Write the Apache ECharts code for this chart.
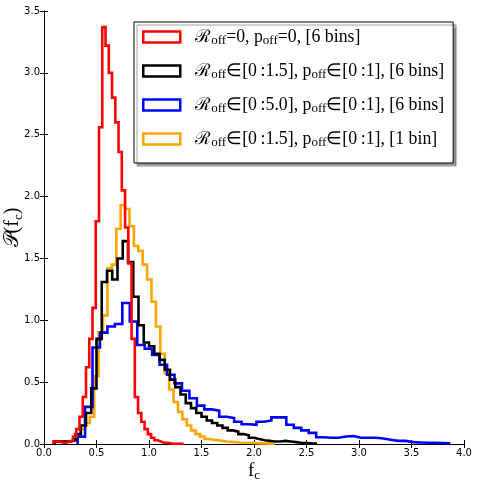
<!DOCTYPE html>
<html>
<head>
<meta charset="utf-8">
<script src="https://cdn.jsdelivr.net/npm/echarts@6/dist/echarts.min.js"></script>
<style>
  body { margin: 0; background: #fff; }
  #main { width: 477px; height: 485px; }
</style>
</head>
<body>
<div id="main"></div>
<script>
// histogram bins: start edge, bin width, heights
const seriesNames = [ 'red', 'black', 'blue', 'orange' ];
const seriesColors = [ '#ff0000', '#000000', '#0000ff', '#ffa500' ];
const binStart = [ 0.09, 0.10, 0.32, 0.10 ];
const binWidth = [ 0.031, 0.05, 0.071, 0.042 ];

const redHeights = [
  0.02, 0.02, 0.01, 0.01, 0.02, 0.03, 0.06, 0.12, 0.22, 0.38,
  0.62, 0.85, 1.10, 1.80, 2.56, 3.37, 3.22, 3.00, 2.80, 2.60,
  2.36, 2.05, 1.75, 1.46, 0.85, 0.38, 0.25, 0.18, 0.12, 0.08,
  0.05, 0.03, 0.02, 0.01, 0.01, 0.005, 0.003, 0.002, 0.001, 0.001
];
const blackHeights = [
  0.02, 0.02, 0.02, 0.03, 0.08, 0.15, 0.25, 0.45, 0.85, 1.31,
  1.40, 1.33, 1.50, 1.64, 1.47, 1.19, 0.96, 0.82, 0.79, 0.73,
  0.68, 0.60, 0.52, 0.46, 0.40, 0.33, 0.29, 0.25, 0.22, 0.19,
  0.17, 0.15, 0.13, 0.11, 0.10, 0.08, 0.07, 0.05, 0.04, 0.03,
  0.025, 0.02, 0.02, 0.025, 0.02, 0.015, 0.01, 0.008, 0.005, 0.003
];
const blueHeights = [
  0.06, 0.30, 0.78, 0.90, 0.95, 0.97, 1.14, 0.99, 0.80, 0.77,
  0.72, 0.64, 0.56, 0.49, 0.43, 0.37, 0.31, 0.28, 0.27, 0.22,
  0.21, 0.18, 0.16, 0.155, 0.18, 0.19, 0.215, 0.215, 0.155, 0.13,
  0.11, 0.09, 0.055, 0.05, 0.05, 0.06, 0.065, 0.05, 0.05, 0.05,
  0.045, 0.035, 0.025, 0.025, 0.015, 0.012, 0.01, 0.01, 0.008, 0.005
];
const orangeHeights = [
  0.02, 0.02, 0.02, 0.02, 0.03, 0.06, 0.12, 0.17, 0.22, 0.55,
  0.90, 1.04, 1.42, 1.45, 1.74, 1.93, 1.90, 1.76, 1.60, 1.56,
  1.45, 1.33, 1.15, 0.95, 0.73, 0.57, 0.44, 0.34, 0.26, 0.20,
  0.15, 0.11, 0.08, 0.06, 0.04, 0.035, 0.03, 0.025, 0.02, 0.018,
  0.015, 0.012, 0.01, 0.01, 0.008, 0.006, 0.005, 0.004, 0.003, 0.002
];
const allHeights = [ redHeights, blackHeights, blueHeights, orangeHeights ];

const legendRich = [
  '{m|\u211B}{s|off}{m|=0, p}{s|off}{m|=0, [6 bins]}',
  '{m|\u211B}{s|off}{m|\u2208[0\u2009:1.5], p}{s|off}{m|\u2208[0\u2009:1], [6 bins]}',
  '{m|\u211B}{s|off}{m|\u2208[0\u2009:5.0], p}{s|off}{m|\u2208[0\u2009:1], [6 bins]}',
  '{m|\u211B}{s|off}{m|\u2208[0\u2009:1.5], p}{s|off}{m|\u2208[0\u2009:1], [1 bin]}'
];

const xTicks = { min: 0, max: 4, interval: 0.5 };
const yTicks = { min: 0, max: 3.5, interval: 0.5 };

( function ()
{
  let myChart = echarts.init( document.getElementById( 'main' ) );
  const serif = 'Liberation Serif';

  // outline of a step histogram
  function stepPoints ( start, width, h )
  {
    let pts = [ [ start, 0 ] ];
    for ( let i = 0; i < h.length; i++ )
    {
      let x0 = +( start + i * width ).toFixed( 4 );
      let x1 = +( start + ( i + 1 ) * width ).toFixed( 4 );
      pts.push( [ x0, h[ i ] ], [ x1, h[ i ] ] );
    }
    pts.push( [ +( start + h.length * width ).toFixed( 4 ), 0 ] );
    return pts;
  }

  let series = seriesNames.map( function ( name, k )
  {
    return {
      name: name,
      type: 'line',
      data: stepPoints( binStart[ k ], binWidth[ k ], allHeights[ k ] ),
      showSymbol: false,
      color: seriesColors[ k ],
      lineStyle: { color: seriesColors[ k ], width: 2.6, join: 'miter' },
      z: 10 - k
    };
  } );

  let tickLabel = { fontFamily: 'DejaVu Sans', fontSize: 10, color: '#000' };
  let labelFmt = function ( v ) { return v.toFixed( 1 ); };

  let option = {
    animation: false,
    backgroundColor: '#fff',
    grid: { left: 44, right: 13, top: 11, bottom: 41, outerBoundsMode: 'none', containLabel: false },
    legend: {
      orient: 'vertical',
      left: 134,
      top: 22,
      padding: [ 6, 9, 14, 8 ],
      itemGap: 15,
      itemWidth: 37,
      itemHeight: 11,
      backgroundColor: '#fff',
      borderColor: '#000',
      borderWidth: 1,
      borderRadius: 0,
      shadowColor: 'rgba(0,0,0,0.4)',
      shadowOffsetX: 3,
      shadowOffsetY: 3,
      shadowBlur: 1,
      icon: 'rect',
      data: seriesNames.map( function ( n, k )
      {
        return {
          name: n,
          itemStyle: { color: '#fff', borderColor: seriesColors[ k ], borderWidth: 2.5 }
        };
      } ),
      formatter: function ( name )
      {
        return legendRich[ seriesNames.indexOf( name ) ];
      },
      textStyle: {
        padding: [ 0, 0, 0, 10 ],
        rich: {
          m: { fontFamily: serif, fontSize: 17.8, color: '#000', lineHeight: 20 },
          s: { fontFamily: serif, fontSize: 13, color: '#000', lineHeight: 6, verticalAlign: 'bottom' }
        }
      }
    },
    xAxis: [
      {
        type: 'value', min: xTicks.min, max: xTicks.max, interval: xTicks.interval,
        name: '{m|f}{s|c}',
        nameLocation: 'middle',
        nameGap: 16,
        nameMoveOverlap: false,
        nameTextStyle: {
          rich: {
            m: { fontFamily: serif, fontSize: 19, color: '#000', lineHeight: 22 },
            s: { fontFamily: serif, fontSize: 13, color: '#000', lineHeight: 10, verticalAlign: 'bottom' }
          }
        },
        axisLine: { lineStyle: { color: '#000', width: 1 } },
        axisTick: { inside: true, length: 4, lineStyle: { color: '#000' } },
        axisLabel: Object.assign( { margin: 4, formatter: labelFmt }, tickLabel ),
        splitLine: { show: false }
      },
      {
        type: 'value', position: 'top', min: xTicks.min, max: xTicks.max, interval: xTicks.interval,
        axisLine: { lineStyle: { color: '#000', width: 1 } },
        axisTick: { inside: true, length: 4, lineStyle: { color: '#000' } },
        axisLabel: { show: false },
        splitLine: { show: false }
      }
    ],
    yAxis: [
      {
        type: 'value', min: yTicks.min, max: yTicks.max, interval: yTicks.interval,
        name: '{m|\uD835\uDCAB(f}{s|c}{m|)}',
        nameLocation: 'middle',
        nameRotate: 90,
        nameGap: 19,
        nameMoveOverlap: false,
        nameTextStyle: {
          rich: {
            m: { fontFamily: serif, fontSize: 20, color: '#000', lineHeight: 24 },
            s: { fontFamily: serif, fontSize: 13, color: '#000', lineHeight: 10, verticalAlign: 'bottom' }
          }
        },
        axisLine: { show: true, lineStyle: { color: '#000', width: 1 } },
        axisTick: { show: true, inside: true, length: 4, lineStyle: { color: '#000' } },
        axisLabel: Object.assign( { margin: 4, formatter: labelFmt }, tickLabel ),
        splitLine: { show: false }
      },
      {
        type: 'value', position: 'right', min: yTicks.min, max: yTicks.max, interval: yTicks.interval,
        axisLine: { show: true, lineStyle: { color: '#000', width: 1 } },
        axisTick: { show: true, inside: true, length: 4, lineStyle: { color: '#000' } },
        axisLabel: { show: false },
        splitLine: { show: false }
      }
    ],
    series: series
  };
  myChart.setOption( option );
  window.addEventListener( "resize", function ()
  {
    myChart.resize();
  } );
} )();
</script>
</body>
</html>
